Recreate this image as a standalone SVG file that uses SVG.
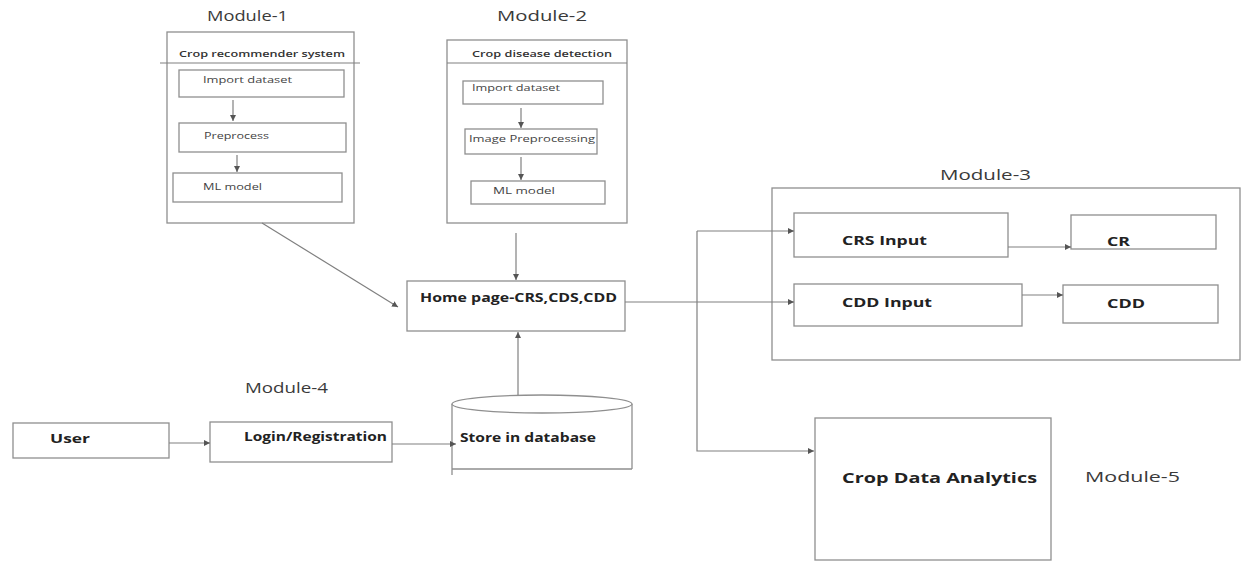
<svg xmlns="http://www.w3.org/2000/svg" width="1242" height="562" viewBox="0 0 1242 562">
<style>
.box{fill:#fff;stroke:#8f8f8f;stroke-width:1.3}
.ln{fill:none;stroke:#808080;stroke-width:1.2}
.mod{font-family:"Open Sans","Liberation Sans",sans-serif;font-size:15px;fill:#3a3a3a}
.sm{font-family:"Open Sans","Liberation Sans",sans-serif;font-size:9px;fill:#444}
.hd{font-family:"Open Sans","Liberation Sans",sans-serif;font-size:9px;font-weight:600;fill:#333}
.b{font-family:"Open Sans","Liberation Sans",sans-serif;font-size:13px;font-weight:700;fill:#222}
.bl{font-family:"Open Sans","Liberation Sans",sans-serif;font-size:15px;font-weight:700;fill:#222}
</style>
<defs>
<marker id="ah" viewBox="0 0 8 8" refX="8" refY="4" markerWidth="6" markerHeight="6" markerUnits="userSpaceOnUse" orient="auto">
<path d="M0,0 L8,4 L0,8 z" fill="#555"/>
</marker>
</defs>
<rect width="1242" height="562" fill="#fff"/>

<g id="module1">
<text class="mod" x="207" y="21" textLength="81" lengthAdjust="spacingAndGlyphs">Module-1</text>
<rect class="box" x="167" y="32" width="187" height="191"/>
<line class="ln" x1="160" y1="63" x2="360" y2="63"/>
<text class="hd" x="179" y="57" textLength="166" lengthAdjust="spacingAndGlyphs">Crop recommender system</text>
<rect class="box" x="179" y="70" width="165" height="27"/>
<text class="sm" x="203" y="83" textLength="89" lengthAdjust="spacingAndGlyphs">Import dataset</text>
<rect class="box" x="179" y="123" width="167" height="29"/>
<text class="sm" x="204" y="139" textLength="65" lengthAdjust="spacingAndGlyphs">Preprocess</text>
<rect class="box" x="173" y="173" width="169" height="29"/>
<text class="sm" x="203" y="190" textLength="59" lengthAdjust="spacingAndGlyphs">ML model</text>
<line class="ln" x1="233" y1="100" x2="233" y2="121" marker-end="url(#ah)"/>
<line class="ln" x1="237" y1="155" x2="237" y2="172" marker-end="url(#ah)"/>
</g>

<g id="module2">
<text class="mod" x="497" y="21" textLength="90" lengthAdjust="spacingAndGlyphs">Module-2</text>
<rect class="box" x="447" y="40" width="180" height="183"/>
<line class="ln" x1="447" y1="63" x2="627" y2="63"/>
<text class="hd" x="472" y="57" textLength="140" lengthAdjust="spacingAndGlyphs">Crop disease detection</text>
<rect class="box" x="463" y="81" width="140" height="23"/>
<text class="sm" x="472" y="91" textLength="88" lengthAdjust="spacingAndGlyphs">Import dataset</text>
<rect class="box" x="465" y="129" width="132" height="25"/>
<text class="sm" x="469" y="142" textLength="126" lengthAdjust="spacingAndGlyphs">Image Preprocessing</text>
<rect class="box" x="471" y="181" width="134" height="23"/>
<text class="sm" x="493" y="194" textLength="62" lengthAdjust="spacingAndGlyphs">ML model</text>
<line class="ln" x1="521" y1="108" x2="521" y2="128" marker-end="url(#ah)"/>
<line class="ln" x1="521" y1="157" x2="521" y2="180" marker-end="url(#ah)"/>
</g>

<g id="home">
<rect class="box" x="407" y="281" width="218" height="50"/>
<text class="b" x="420" y="302" textLength="197" lengthAdjust="spacingAndGlyphs">Home page-CRS,CDS,CDD</text>
</g>

<g id="module3">
<text class="mod" x="940" y="180" textLength="91" lengthAdjust="spacingAndGlyphs">Module-3</text>
<rect class="box" x="772" y="188" width="468" height="172"/>
</g>
<g id="crs-input">
<rect class="box" x="794" y="213" width="214" height="44"/>
<text class="b" x="842" y="245" textLength="85" lengthAdjust="spacingAndGlyphs">CRS Input</text>
</g>
<g id="cr">
<rect class="box" x="1071" y="215" width="145" height="34"/>
<text class="b" x="1107" y="246" textLength="23" lengthAdjust="spacingAndGlyphs">CR</text>
</g>
<g id="cdd-input">
<rect class="box" x="794" y="284" width="228" height="42"/>
<text class="b" x="842" y="307" textLength="90" lengthAdjust="spacingAndGlyphs">CDD Input</text>
</g>
<g id="cdd">
<rect class="box" x="1063" y="285" width="155" height="38"/>
<text class="b" x="1107" y="308" textLength="38" lengthAdjust="spacingAndGlyphs">CDD</text>
</g>

<g id="module4">
<text class="mod" x="245" y="393" textLength="83" lengthAdjust="spacingAndGlyphs">Module-4</text>
</g>
<g id="user">
<rect class="box" x="13" y="423" width="156" height="35"/>
<text class="b" x="50" y="443" textLength="40" lengthAdjust="spacingAndGlyphs">User</text>
</g>
<g id="login">
<rect class="box" x="210" y="422" width="182" height="40"/>
<text class="b" x="244" y="441" textLength="143" lengthAdjust="spacingAndGlyphs">Login/Registration</text>
</g>
<g id="database">
<path class="box" d="M452,404 L452,475 M632,404 L632,469 M452,469 L632,469"/>
<ellipse class="box" cx="542" cy="404" rx="90" ry="9"/>
<text class="b" x="460" y="442" textLength="136" lengthAdjust="spacingAndGlyphs">Store in database</text>
</g>

<g id="module5">
<rect class="box" x="815" y="418" width="236" height="142"/>
<text class="bl" x="842" y="483" textLength="195" lengthAdjust="spacingAndGlyphs">Crop Data Analytics</text>
<text class="mod" x="1085" y="482" textLength="95" lengthAdjust="spacingAndGlyphs">Module-5</text>
</g>

<g id="connectors">
<line class="ln" x1="262" y1="223" x2="398" y2="307" marker-end="url(#ah)"/>
<line class="ln" x1="516" y1="233" x2="516" y2="280" marker-end="url(#ah)"/>
<line class="ln" x1="518" y1="395" x2="518" y2="332" marker-end="url(#ah)"/>
<line class="ln" x1="169" y1="443" x2="210" y2="443" marker-end="url(#ah)"/>
<line class="ln" x1="392" y1="444" x2="456" y2="444" marker-end="url(#ah)"/>
<line class="ln" x1="625" y1="302" x2="794" y2="302" marker-end="url(#ah)"/>
<polyline class="ln" points="697,231 697,451 814,451" marker-end="url(#ah)"/>
<line class="ln" x1="697" y1="231" x2="794" y2="231" marker-end="url(#ah)"/>
<line class="ln" x1="1008" y1="247" x2="1071" y2="247" marker-end="url(#ah)"/>
<line class="ln" x1="1022" y1="295" x2="1063" y2="295" marker-end="url(#ah)"/>
</g>
</svg>
